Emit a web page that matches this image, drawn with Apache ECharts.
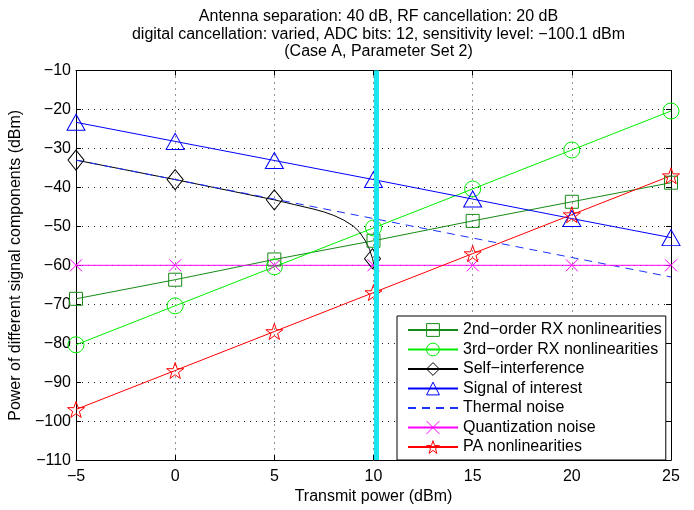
<!DOCTYPE html>
<html>
<head>
<meta charset="utf-8">
<script src="https://cdn.jsdelivr.net/npm/echarts@6/dist/echarts.min.js"></script>
<style>
html,body{margin:0;padding:0;background:#fff;}
#chart{width:694px;height:510px;}
</style>
</head>
<body>
<div id="chart"></div>
<script>
// ---- data ----
const txPower = [-5, 0, 5, 10, 15, 20, 25];
const rx2nd = [-68.6, -63.7, -58.5, -53.7, -48.6, -43.7, -38.8];
const rx3rd = [-80.4, -70.4, -60.4, -50.4, -40.4, -30.4, -20.4];
const signalOfInterest = [-23.3, -28.2, -33.1, -38.0, -43.0, -48.0, -52.9];
const thermalNoise = [-33, -38, -43, -48, -53, -58, -63];
const quantNoise = [-60, -60, -60, -60, -60, -60, -60];
const paNonlin = [-97, -87, -77, -67, -57, -47, -37];
const siCurveX = [-5, 0, 5, 6, 7, 7.5, 8, 8.5, 9, 9.3, 9.6, 9.8, 9.95, 10.05];
const siCurveY = [-33, -38, -43.2, -44.4, -45.6, -46.3, -47.2, -48.4, -50.0, -51.5, -53.8, -55.9, -58.3, -60.3];
const siMarkerX = [-5, 0, 5, 9.95];
const operatingPoint = 10.15;
const yTicks = { min: -110, max: -10, step: 10 };
const xTicks = { min: -5, max: 25, step: 5 };
const seriesNames = ['2nd\u2212order RX nonlinearities', '3rd\u2212order RX nonlinearities',
  'Self\u2212interference', 'Signal of interest', 'Thermal noise', 'Quantization noise', 'PA nonlinearities'];
const titleLines = ['Antenna separation: 40 dB, RF cancellation: 20 dB',
  'digital cancellation: varied, ADC bits: 12, sensitivity level: \u2212100.1 dBm',
  '(Case A, Parameter Set 2)'];

// ---- chart ----
const FONT = 'Liberation Sans, Arial, Helvetica, sans-serif';
const FS = 16;
const minus = v => String(v).replace('-', '\u2212');
const pairs = ys => txPower.map((x, i) => [x, ys[i]]);
const STAR = 'path://M50,0 L61.8,35.1 L98.1,35.1 L68.8,56.7 L79.4,90.5 L50,69.1 L20.6,90.5 L31.2,56.7 L1.9,35.1 L38.2,35.1 Z';
const CROSS = 'path://M0,0 L10,10 M10,0 L0,10';
const colors = ['#168a16', '#00ee00', '#000000', '#0000ff', '#1a30ff', '#ff00ff', '#ff0000'];

function lineSeries(idx, data, symbol, size, extra) {
  const color = colors[idx];
  return Object.assign({
    name: seriesNames[idx], type: 'line', data: data,
    symbol: symbol, symbolSize: size, symbolKeepAspect: true,
    showAllSymbol: true,
    lineStyle: { color: color, width: 1 },
    itemStyle: { color: 'rgba(0,0,0,0)', borderColor: color, borderWidth: 1 },
    emphasis: { disabled: true },
    z: 3
  }, extra || {});
}

const siData = siCurveX.map((x, i) => ({
  value: [x, siCurveY[i]],
  symbol: siMarkerX.indexOf(x) >= 0 ? 'diamond' : 'none'
}));

const chart = echarts.init(document.getElementById('chart'), null, { renderer: 'canvas' });
const axisCommon = {
  axisLine: { show: true, onZero: false, lineStyle: { color: '#000', width: 1 } },
  axisTick: { show: true, inside: true, length: 5, lineStyle: { color: '#000' } }
};
chart.setOption({
  animation: false,
  backgroundColor: '#fff',
  textStyle: { fontFamily: FONT },
  title: {
    text: titleLines.join('\n'),
    left: 373.5, top: 3, textAlign: 'center',
    textStyle: { fontFamily: FONT, fontSize: FS, fontWeight: 'normal', color: '#000', lineHeight: 17.5 }
  },
  grid: { left: 76, right: 23, top: 70.5, bottom: 44.5, containLabel: false },
  legend: {
    data: seriesNames.map((n, i) => ({
      name: n,
      itemStyle: { color: 'rgba(0,0,0,0)', borderColor: colors[i], borderWidth: i === 4 ? 0 : 1 }
    })),
    orient: 'vertical',
    left: 397, top: 316,
    padding: [6, 4, 5, 10],
    itemWidth: 50, itemHeight: 16, itemGap: 3.5,
    backgroundColor: '#fff', borderColor: '#000', borderWidth: 1, borderRadius: 0,
    textStyle: { fontFamily: FONT, fontSize: FS, color: '#000' },
    selectedMode: false
  },
  xAxis: [
    Object.assign({
      type: 'value', min: xTicks.min, max: xTicks.max, interval: xTicks.step,
      position: 'bottom',
      name: 'Transmit power (dBm)', nameLocation: 'middle', nameGap: 22,
      nameTextStyle: { fontFamily: FONT, fontSize: FS, color: '#000' },
      axisLabel: { formatter: minus, fontFamily: FONT, fontSize: FS, color: '#000', margin: 8 },
      splitLine: { show: true, lineStyle: { color: '#222', width: 1, type: [1, 5] } }
    }, axisCommon),
    Object.assign({
      type: 'value', min: xTicks.min, max: xTicks.max, interval: xTicks.step,
      position: 'top', axisLabel: { show: false }, splitLine: { show: false }
    }, axisCommon)
  ],
  yAxis: [
    Object.assign({
      type: 'value', min: yTicks.min, max: yTicks.max, interval: yTicks.step,
      position: 'left',
      name: 'Power of different signal components (dBm)', nameLocation: 'middle', nameGap: 44,
      nameTextStyle: { fontFamily: FONT, fontSize: FS, color: '#000' },
      axisLabel: { formatter: minus, fontFamily: FONT, fontSize: FS, color: '#000', margin: 5 },
      splitLine: { show: true, lineStyle: { color: '#222', width: 1, type: [1, 5] } }
    }, axisCommon),
    Object.assign({
      type: 'value', min: yTicks.min, max: yTicks.max, interval: yTicks.step,
      position: 'right', axisLabel: { show: false }, splitLine: { show: false }
    }, axisCommon)
  ],
  series: [
    lineSeries(0, pairs(rx2nd), 'rect', 13),
    lineSeries(1, pairs(rx3rd), 'circle', 16),
    lineSeries(2, siData, 'diamond', [16, 20]),
    lineSeries(3, pairs(signalOfInterest), 'triangle', [18, 16]),
    lineSeries(4, pairs(thermalNoise), 'none', 1, {
      lineStyle: { color: colors[4], width: 1, type: [8, 6] },
      itemStyle: { color: 'rgba(0,0,0,0)', borderWidth: 0 }
    }),
    lineSeries(5, pairs(quantNoise), CROSS, 12),
    lineSeries(6, pairs(paNonlin), STAR, 17),
    {
      name: 'operating point', type: 'line',
      data: [[operatingPoint, yTicks.min], [operatingPoint, yTicks.max]],
      symbol: 'none', lineStyle: { color: '#19e6ee', width: 5 },
      emphasis: { disabled: true }, z: 5
    }
  ]
});
</script>
</body>
</html>
